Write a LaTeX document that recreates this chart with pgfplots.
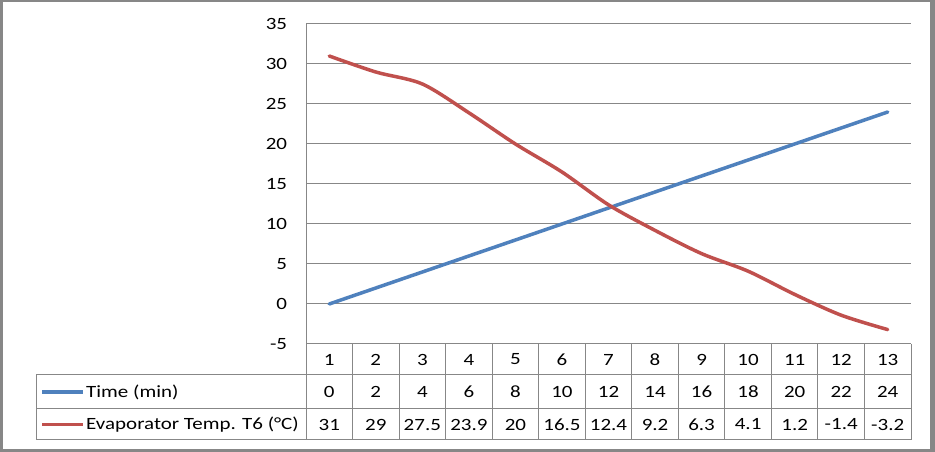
\documentclass[border=0pt]{standalone}
\usepackage{pgfplots}
\pgfplotsset{compat=1.18}
\usepackage{fontspec}
\setmainfont[FakeStretch=1.22]{Carlito}
\definecolor{xblue}{HTML}{4F81BD}
\definecolor{xred}{HTML}{C0504D}
\definecolor{xgrid}{HTML}{878787}
\definecolor{xtxt}{HTML}{000000}
\begin{document}
\fontsize{17.2}{20}\selectfont
\begin{tikzpicture}[x=1pt,y=1pt]
\fill[xgrid] (0,0) rectangle (935,452);
\fill[white] (2.5,3) rectangle (930,450);
\path[use as bounding box] (0,0) rectangle (935,452);
\begin{axis}[
  at={(306pt,108pt)}, anchor=south west,
  scale only axis, width=605pt, height=320pt,
  xmin=0.5, xmax=13.5, ymin=-5, ymax=35,
  ytick={-5,0,...,35},
  xtick=\empty,
  ymajorgrids, grid style={xgrid, line width=1pt},
  axis x line=none,
  axis y line*=left,
  y axis line style={xgrid, line width=1pt, -},
  major tick length=0pt,
  /pgf/number format/assume math mode=true,
  yticklabel style={font=\fontsize{17.2}{20}\selectfont, xshift=-13pt},
  clip=false,
]
\addplot[xblue, line width=3.5pt, line join=round, line cap=round] coordinates {
(1,0) (2,2) (3,4) (4,6) (5,8) (6,10) (7,12) (8,14) (9,16) (10,18) (11,20) (12,22) (13,24)};
\addplot[xred, line width=3.5pt, smooth, tension=0.5, line join=round, line cap=round] coordinates {
(1,31) (2,29) (3,27.5) (4,23.9) (5,20) (6,16.5) (7,12.4) (8,9.2) (9,6.3) (10,4.1) (11,1.2) (12,-1.4) (13,-3.2)};
\end{axis}
% data table
\begin{scope}[xgrid, line width=1pt]
\draw (306,108) -- (911,108);
\draw (36,77) -- (911,77);
\draw (36,43) -- (911,43);
\draw (36,12) -- (911,12);
\draw (36,77) -- (36,12);
\foreach \k in {0,...,13} { \draw ({306+\k*605/13},108) -- ({306+\k*605/13},12); }
\end{scope}
\foreach \v [count=\i] in {1,2,3,4,5,6,7,8,9,10,11,12,13} {
  \node[text=xtxt, inner sep=0pt] at ({306+(\i-0.5)*605/13},92.5) {\v};
}
\foreach \v [count=\i] in {0,2,4,6,8,10,12,14,16,18,20,22,24} {
  \node[text=xtxt, inner sep=0pt] at ({306+(\i-0.5)*605/13},60) {\v};
}
\foreach \v [count=\i] in {31,29,27.5,23.9,20,16.5,12.4,9.2,6.3,4.1,1.2,-1.4,-3.2} {
  \node[text=xtxt, inner sep=0pt] at ({306+(\i-0.5)*605/13},27.5) {\v};
}
\draw[xblue, line width=3.5pt] (42,60) -- (83,60);
\draw[xred, line width=3.5pt] (42,27.5) -- (83,27.5);
\node[anchor=west, inner sep=0pt, text=xtxt] at (86,60) {Time (min)};
\node[anchor=west, inner sep=0pt, text=xtxt] at (86,27.5) {Evaporator Temp. T6 (°C)};
\end{tikzpicture}
\end{document}
